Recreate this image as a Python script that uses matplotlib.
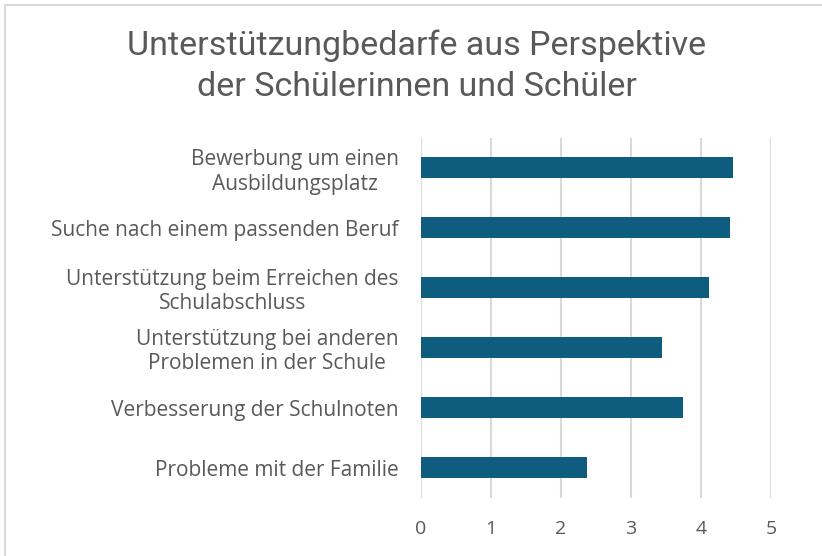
import numpy as np
import matplotlib.pyplot as plt
from matplotlib.lines import Line2D

# Daten (von oben nach unten)
kategorien = ["Bewerbung um einen\nAusbildungsplatz",
              "Suche nach einem passenden Beruf",
              "Unterstützung beim Erreichen des\nSchulabschluss",
              "Unterstützung bei anderen\nProblemen in der Schule",
              "Verbesserung der Schulnoten",
              "Probleme mit der Familie"]
werte = [4.45, 4.41, 4.11, 3.44, 3.74, 2.37]
xticks = [0, 1, 2, 3, 4, 5]

plt.rcParams['font.family'] = ['Open Sans', 'DejaVu Sans']

fig = plt.figure(figsize=(8.22, 5.56), dpi=100)
ax = fig.add_axes([0.512, 0.105, 0.426, 0.647])

y = np.arange(len(kategorien))
ax.barh(y, werte, height=0.35, color='#0E5C7E', zorder=3)
ax.set_ylim(len(kategorien) - 0.5, -0.5)
ax.set_xlim(0, 5)
ax.set_xticks(xticks)
ax.set_xticklabels([str(t) for t in xticks], fontsize=14, color='#595959')
ax.set_yticks(y)
ax.set_yticklabels(kategorien, fontsize=15, color='#595959', multialignment='center')
ax.tick_params(axis='both', length=0)
ax.tick_params(axis='x', pad=16)
ax.tick_params(axis='y', pad=16)
ax.grid(axis='x', color='#d9d9d9', linewidth=1.5, zorder=0)
for s in ax.spines.values():
    s.set_visible(False)

fig.text(0.507, 0.881, "Unterstützungbedarfe aus Perspektive\nder Schülerinnen und Schüler",
         ha='center', va='center', fontsize=24.5, color='#595959',
         family=['Roboto', 'DejaVu Sans'], linespacing=1.35)

# Rahmen oben und links
fig.add_artist(Line2D([0.006, 1.0], [0.991, 0.991], transform=fig.transFigure, color='#d9d9d9', linewidth=1.5))
fig.add_artist(Line2D([0.006, 0.006], [0.0, 0.991], transform=fig.transFigure, color='#d9d9d9', linewidth=1.5))

fig.savefig("out.png", dpi=100)
